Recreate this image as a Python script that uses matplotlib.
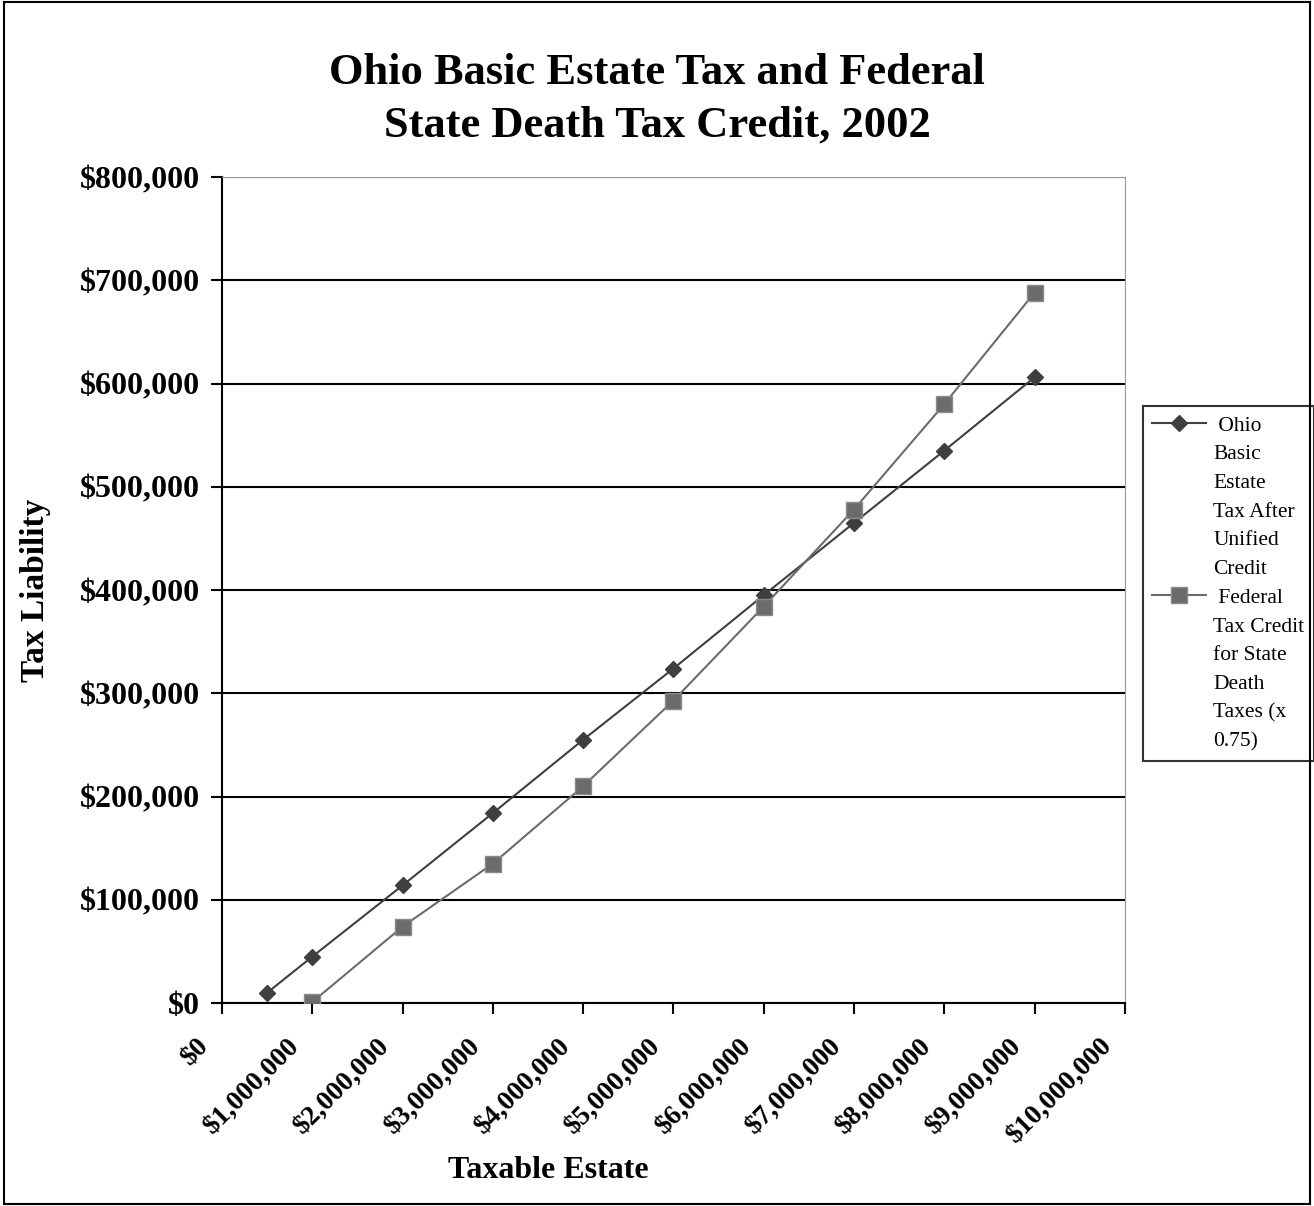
import matplotlib
matplotlib.use("Agg")
import matplotlib.pyplot as plt
import matplotlib.transforms as mtransforms
from matplotlib.ticker import FuncFormatter, MultipleLocator
from matplotlib.patches import Rectangle
from matplotlib.lines import Line2D

# values
ohio_x = [500000, 1000000, 2000000, 3000000, 4000000, 5000000, 6000000, 7000000, 8000000, 9000000]
ohio_y = [10000, 45000, 114000, 184000, 255000, 324000, 395000, 465000, 535000, 606000]
fed_x = [1000000, 2000000, 3000000, 4000000, 5000000, 6000000, 7000000, 8000000, 9000000]
fed_y = [1000, 74000, 135000, 210000, 293000, 384000, 478000, 580000, 688000]

ohio_label = [" Ohio", "Basic", "Estate", "Tax After", "Unified", "Credit"]
fed_label = [" Federal", "Tax Credit", "for State", "Death", "Taxes (x", "0.75)"]

OHIO_C = "#3f3f3f"
FED_C = "#6b6b6b"

plt.rcParams["font.family"] = "Liberation Serif"

fig = plt.figure(figsize=(13.14, 12.06), dpi=100)
ax = fig.add_axes([0.169, 0.1683, 0.687, 0.6849])

l1, = ax.plot(ohio_x, ohio_y, color=OHIO_C, lw=1.5, marker="D", ms=8,
              mfc=OHIO_C, mec=OHIO_C, zorder=3)
l2, = ax.plot(fed_x, fed_y, color=FED_C, lw=1.5, marker="s", ms=11,
              mfc=FED_C, mec="#8a8a8a", zorder=3)

ax.set_xlim(0, 10000000)
ax.set_ylim(0, 800000)
ax.xaxis.set_major_locator(MultipleLocator(1000000))
ax.yaxis.set_major_locator(MultipleLocator(100000))
money = FuncFormatter(lambda v, p: "${:,.0f}".format(v))
ax.xaxis.set_major_formatter(money)
ax.yaxis.set_major_formatter(money)

ax.grid(axis="y", color="black", lw=1.5)
ax.set_axisbelow(True)
for s in ["top", "right"]:
    ax.spines[s].set_color("#999999")
for s in ["left", "bottom"]:
    ax.spines[s].set_color("black")
    ax.spines[s].set_linewidth(1.5)

ax.tick_params(axis="both", direction="out", length=8, width=1.5)
ax.tick_params(axis="y", pad=8)
ax.tick_params(axis="x", pad=14)
for t in ax.get_yticklabels():
    t.set_fontsize(23)
    t.set_fontweight("bold")
shift = mtransforms.ScaledTranslation(-26 / 100, 0, fig.dpi_scale_trans)
for t in ax.get_xticklabels():
    t.set_fontsize(20)
    t.set_fontweight("bold")
    t.set_rotation(45)
    t.set_ha("right")
    t.set_rotation_mode("anchor")
    t.set_transform(t.get_transform() + shift)

ax.set_xlabel("Taxable Estate", fontsize=23, fontweight="bold")
ax.xaxis.set_label_coords(0.361, -0.185)
ax.set_ylabel("Tax Liability", fontsize=24, fontweight="bold")
ax.yaxis.set_label_coords(-0.19, 0.5)
fig.text(0.5, 0.918, "Ohio Basic Estate Tax and Federal\nState Death Tax Credit, 2002",
         fontsize=32, fontweight="bold", ha="center", va="center", linespacing=1.4)

# legend: one entry per text line so the marker sits on the first line
blank = Line2D([], [], ls="none")
handles = [l1] + [blank] * (len(ohio_label) - 1) + [l2] + [blank] * (len(fed_label) - 1)
labels = ohio_label + fed_label
leg = ax.legend(handles, labels, loc="upper left", bbox_to_anchor=(1.0199, 0.7228),
                fontsize=15.5, frameon=True, fancybox=False, edgecolor="black",
                handlelength=2.5, handletextpad=0.33, borderpad=0.45,
                borderaxespad=0, labelspacing=0.4)
leg.get_frame().set_linewidth(1.5)

fig.patches.append(Rectangle((0.003, 0.002), 0.994, 0.996, transform=fig.transFigure,
                             fill=False, edgecolor="black", lw=1.5))

fig.savefig("out.png", dpi=100)
